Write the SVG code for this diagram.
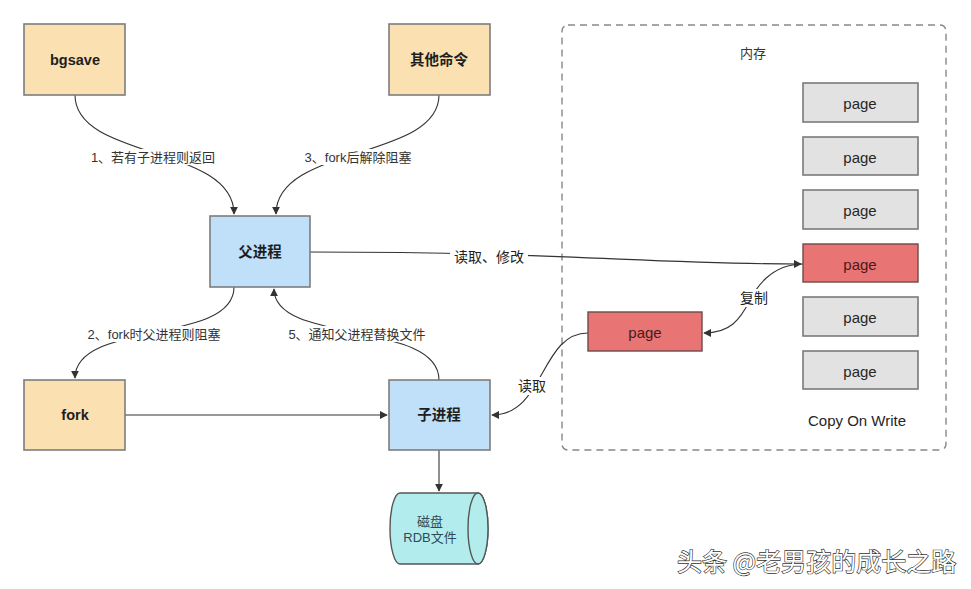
<svg xmlns="http://www.w3.org/2000/svg" width="971" height="589" viewBox="0 0 971 589">
<defs>
<style>
.node{stroke:#7d7d7d;stroke-width:1.6}
.org{fill:#fbe0b2}
.blue{fill:#bfe0f8}
.gray{fill:#e2e2e2;stroke:#7a7a7a;stroke-width:1.6}
.red{fill:#e87474;stroke:#6e4a4a;stroke-width:1.4}
.t{font-family:"Liberation Sans","Noto Sans CJK SC",sans-serif;text-anchor:middle;dominant-baseline:central}
.nt{font-size:14.5px;font-weight:bold;fill:#1e1e1e}
.pt{font-size:15px;fill:#262626}
.el{font-size:13px;fill:#333}
.ml{font-size:14px;fill:#222}
.ln{fill:none;stroke:#333;stroke-width:1.1}
.lbg{fill:#fff}
</style>
<marker id="ah" viewBox="0 0 10 10" refX="9" refY="5" markerWidth="8" markerHeight="8" markerUnits="userSpaceOnUse" orient="auto">
<path d="M0,0 L10,5 L0,10 Z" fill="#333"/>
</marker>
</defs>
<rect width="971" height="589" fill="#fff"/>

<g id="memory">
<rect x="562" y="25" width="384" height="425" rx="6" fill="none" stroke="#888" stroke-width="1.4" stroke-dasharray="7,5"/>
<text class="t el" x="753" y="53">内存</text>
<text class="t pt" x="857" y="420">Copy On Write</text>
</g>

<g id="connectors">
<path class="ln" d="M75,95 C75,160 234,145 234,214" marker-end="url(#ah)"/>
<path class="ln" d="M439,95 C439,160 276,145 276,214" marker-end="url(#ah)"/>
<path class="ln" d="M234,287 C234,345 75,320 75,378" marker-end="url(#ah)"/>
<path class="ln" d="M439,380 C439,320 274,345 274,289" marker-end="url(#ah)"/>
<path class="ln" d="M125,415 L387,415" marker-end="url(#ah)"/>
<path class="ln" d="M439,450 L439,491" marker-end="url(#ah)"/>
<path class="ln" d="M310,252 C560,252 650,264 801,264" marker-end="url(#ah)"/>
<path class="ln" d="M803,264 C770,264 755,290 750,300 C740,320 730,333 704,333" marker-end="url(#ah)"/>
<path class="ln" d="M588,333 C540,333 545,415 492,415" marker-end="url(#ah)"/>
<rect class="lbg" x="88" y="149" width="130" height="16"/>
<text class="t el" x="153" y="157">1、若有子进程则返回</text>
<rect class="lbg" x="300" y="149" width="116" height="16"/>
<text class="t el" x="358" y="157">3、fork后解除阻塞</text>
<rect class="lbg" x="84" y="326" width="140" height="16"/>
<text class="t el" x="154" y="334">2、fork时父进程则阻塞</text>
<rect class="lbg" x="287" y="326" width="140" height="16"/>
<text class="t el" x="357" y="334">5、通知父进程替换文件</text>
<rect class="lbg" x="450" y="248" width="78" height="18"/>
<text class="t ml" x="489" y="257">读取、修改</text>
<rect class="lbg" x="737" y="289" width="34" height="18"/>
<text class="t ml" x="754" y="298">复制</text>
<rect class="lbg" x="514" y="377" width="36" height="18"/>
<text class="t ml" x="532" y="386">读取</text>
</g>

<g id="bgsave"><rect class="node org" x="24" y="24" width="101" height="71"/><text class="t nt" x="75" y="60">bgsave</text></g>
<g id="other"><rect class="node org" x="389" y="24" width="101" height="71"/><text class="t nt" x="439" y="60">其他命令</text></g>
<g id="parent"><rect class="node blue" x="210" y="216" width="100" height="71"/><text class="t nt" x="260" y="252">父进程</text></g>
<g id="fork"><rect class="node org" x="24" y="380" width="101" height="70"/><text class="t nt" x="75" y="415">fork</text></g>
<g id="child"><rect class="node blue" x="389" y="380" width="101" height="70"/><text class="t nt" x="439" y="415">子进程</text></g>
<g id="disk">
<path d="M400,493 L478,493 A10,35.5 0 0 1 478,564 L400,564 A10,35.5 0 0 1 400,493 Z" fill="#b3ecec" stroke="#555" stroke-width="1.4"/>
<ellipse cx="478" cy="528.5" rx="10" ry="35.5" fill="#b3ecec" stroke="#555" stroke-width="1.4"/>
<text class="t el" x="430" y="521" style="fill:#2d4a5a">磁盘</text>
<text class="t el" x="430" y="537" style="fill:#2d4a5a">RDB文件</text>
</g>

<g id="page1"><rect class="gray" x="803" y="83" width="115" height="39"/><text class="t pt" x="860" y="103">page</text></g>
<g id="page2"><rect class="gray" x="803" y="137" width="115" height="38"/><text class="t pt" x="860" y="157">page</text></g>
<g id="page3"><rect class="gray" x="803" y="190" width="115" height="39"/><text class="t pt" x="860" y="210">page</text></g>
<g id="page4"><rect class="red" x="803" y="244" width="115" height="38"/><text class="t pt" x="860" y="264" style="fill:#4a1a1a">page</text></g>
<g id="page5"><rect class="gray" x="803" y="297" width="115" height="39"/><text class="t pt" x="860" y="317">page</text></g>
<g id="page6"><rect class="gray" x="803" y="351" width="115" height="38"/><text class="t pt" x="860" y="371">page</text></g>
<g id="pagecopy"><rect class="red" x="588" y="312" width="114" height="39"/><text class="t pt" x="645" y="332" style="fill:#4a1a1a">page</text></g>

<text x="677" y="571" font-family="Noto Sans CJK SC, sans-serif" font-size="25" fill="#fff" stroke="#333" stroke-width="1.3" paint-order="stroke">头条 @老男孩的成长之路</text>
</svg>
